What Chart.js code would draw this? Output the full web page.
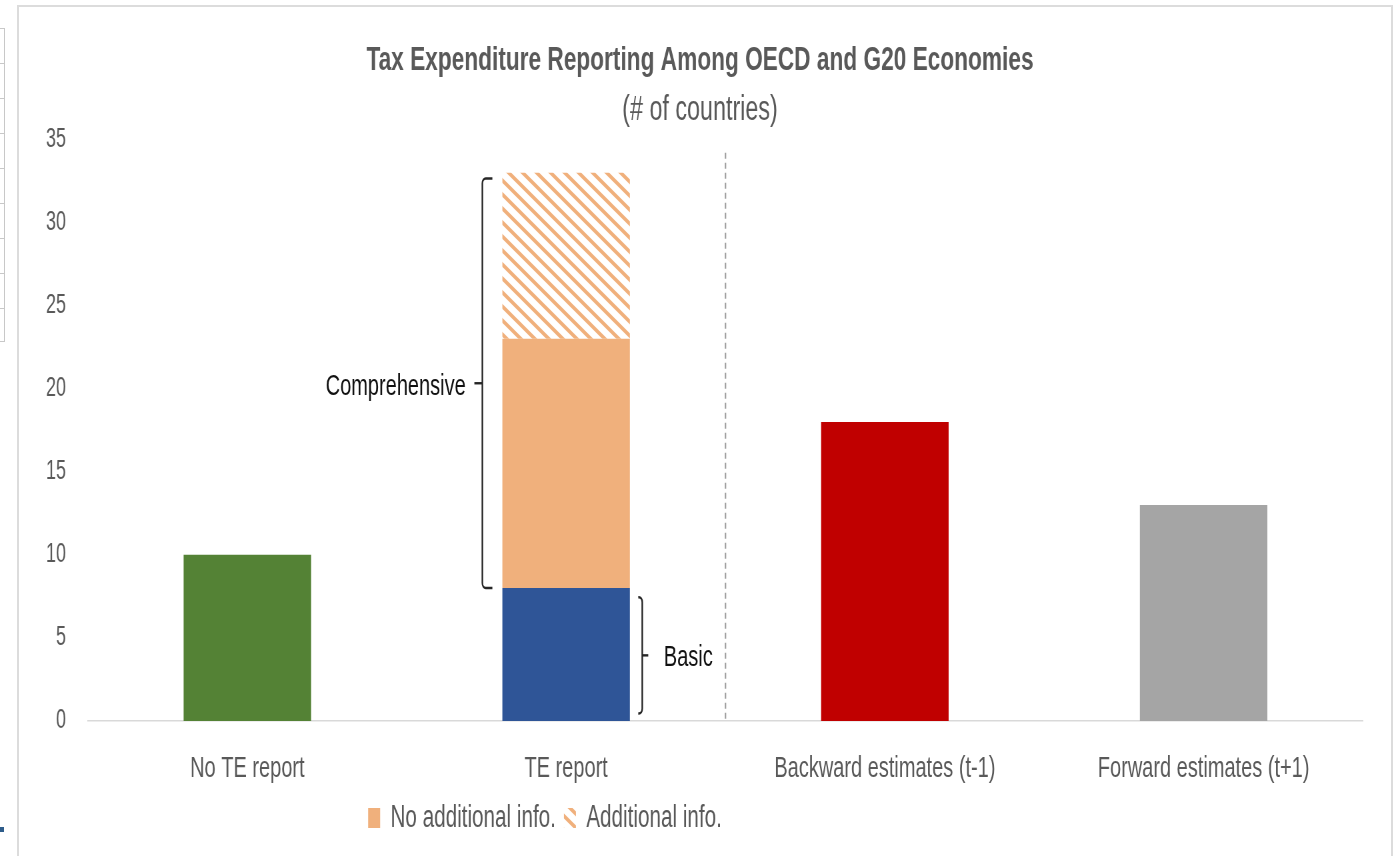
<!DOCTYPE html>
<html>
<head>
<meta charset="utf-8">
<title>Tax Expenditure Reporting Among OECD and G20 Economies</title>
<script src="https://cdn.jsdelivr.net/npm/chart.js@4.4.1/dist/chart.umd.min.js"></script>
<style>
  html, body { margin: 0; padding: 0; background: #ffffff; }
  body { width: 1396px; height: 856px; position: relative; overflow: hidden; }
  #frame {
    position: absolute; left: 17px; top: 5px; width: 1376px; height: 880px;
    border: 2px solid #dcdcdc; box-sizing: border-box;
  }
  #side {
    position: absolute; left: -1px; top: 28px; width: 4px; height: 312px;
    border: 1px solid #c8c8c8;
    background: repeating-linear-gradient(to bottom, transparent 0 34px, #c8c8c8 34px 35px);
  }
  #mark { position: absolute; left: 0; top: 827px; width: 4px; height: 5px; background: #2e5c8a; }
  /* the plot is laid out on a wider stage and condensed horizontally */
  #stage {
    position: absolute; left: 0; top: 0; width: 2094px; height: 856px;
    transform: scaleX(0.6666667); transform-origin: 0 0;
  }
</style>
</head>
<body>
<div id="frame"></div>
<div id="side"></div>
<div id="mark"></div>
<div id="stage"><canvas id="chart"></canvas></div>
<script>
// Categories along the horizontal axis
const categories = ['No TE report', 'TE report', 'Backward estimates (t-1)', 'Forward estimates (t+1)'];

// Number of countries in each group
const noReport          = [10, null, null, null];
const basicReport       = [null, 8, null, null];
const noAdditionalInfo  = [null, 15, null, null];
const additionalInfo    = [null, 10, null, null];
const backwardEstimates = [null, null, 18, null];
const forwardEstimates  = [null, null, null, 13];

// Value axis
const yTickValues = [0, 5, 10, 15, 20, 25, 30, 35];

// Bracket extents (in countries) and the top of the divider line
const comprehensiveSpan = [8, 32.65];
const basicSpan = [0.45, 7.45];
const dividerTop = 34.2;

const FONT = "'Liberation Sans', Arial, sans-serif";
const TEXT = '#595959';
const ORANGE = '#F0B07C';

// Diagonal stripes for the "Additional info." segment
function stripePattern(color) {
  const tile = document.createElement('canvas');
  tile.width = 21; tile.height = 14;
  const g = tile.getContext('2d');
  g.strokeStyle = color;
  g.lineWidth = 4.2;
  g.beginPath();
  g.moveTo(-21, -14); g.lineTo(42, 28);
  g.moveTo(-21, 0);   g.lineTo(21, 28);
  g.moveTo(0, -14);   g.lineTo(42, 14);
  g.stroke();
  return document.createElement('canvas').getContext('2d').createPattern(tile, 'repeat');
}
const hatch = stripePattern(ORANGE);

// Draws the divider and the two brackets labelled Comprehensive / Basic
const annotationPlugin = {
  id: 'reportAnnotations',
  afterDatasetsDraw(chart) {
    const { ctx, scales: { x, y } } = chart;
    ctx.save();

    const divX = (x.getPixelForValue(1) + x.getPixelForValue(2)) / 2;
    ctx.strokeStyle = '#9e9e9e';
    ctx.lineWidth = 2.2;
    ctx.setLineDash([6, 4]);
    ctx.beginPath();
    ctx.moveTo(divX, y.getPixelForValue(dividerTop));
    ctx.lineTo(divX, y.getPixelForValue(0));
    ctx.stroke();
    ctx.setLineDash([]);

    const bar = chart.getDatasetMeta(1).data[1];
    const barLeft = bar.x - bar.width / 2;
    const barRight = bar.x + bar.width / 2;

    function bracket(xv, v0, v1, hookDir, hookLen, tickDir, tickLen) {
      const yTop = y.getPixelForValue(v1);
      const yBot = y.getPixelForValue(v0);
      const yMid = (yTop + yBot) / 2;
      ctx.strokeStyle = '#262626';
      ctx.lineWidth = 2.4;
      ctx.lineJoin = 'round';
      ctx.beginPath();
      ctx.moveTo(xv + hookDir * hookLen, yTop);
      ctx.arcTo(xv, yTop, xv, yTop + 6, 5);
      ctx.arcTo(xv, yBot, xv + hookDir * hookLen, yBot, 5);
      ctx.lineTo(xv + hookDir * hookLen, yBot);
      ctx.stroke();
      ctx.beginPath();
      ctx.moveTo(xv, yMid);
      ctx.lineTo(xv + tickDir * tickLen, yMid);
      ctx.stroke();
      return yMid;
    }

    ctx.font = '30px ' + FONT;
    ctx.fillStyle = '#111111';
    ctx.textBaseline = 'middle';

    const cx = barLeft - 30;
    const cMid = bracket(cx, comprehensiveSpan[0], comprehensiveSpan[1], 1, 15, -1, 12);
    ctx.textAlign = 'right';
    ctx.fillText('Comprehensive', barLeft - 55, cMid + 3);

    const bx = barRight + 18.6;
    const bMid = bracket(bx, basicSpan[0], basicSpan[1], -1, 6, 1, 9);
    ctx.textAlign = 'left';
    ctx.fillText('Basic', barRight + 51, bMid + 2);

    ctx.restore();
  }
};

// Centres the legend under the left half of the plot
const legendPlacement = {
  id: 'legendPlacement',
  afterLayout(chart) {
    const lg = chart.legend;
    if (!lg) return;
    const shift = 817.5 - (lg.left + lg.right) / 2;
    lg.left += shift;
    lg.right += shift;
  }
};

const legendNames = ['No additional info.', 'Additional info.'];

new Chart(document.getElementById('chart'), {
  type: 'bar',
  data: {
    labels: categories,
    datasets: [
      { label: 'No TE report', data: noReport, backgroundColor: '#548235' },
      { label: 'Basic', data: basicReport, backgroundColor: '#2F5597' },
      { label: 'No additional info.', data: noAdditionalInfo, backgroundColor: ORANGE },
      { label: 'Additional info.', data: additionalInfo, backgroundColor: hatch },
      { label: 'Backward estimates (t-1)', data: backwardEstimates, backgroundColor: '#C00000' },
      { label: 'Forward estimates (t+1)', data: forwardEstimates, backgroundColor: '#A5A5A5' }
    ]
  },
  options: {
    responsive: true,
    maintainAspectRatio: false,
    animation: false,
    events: [],
    datasets: { bar: { barPercentage: 0.4, categoryPercentage: 1, borderWidth: 0 } },
    layout: { padding: { top: 0, left: 55.5, right: 49.5, bottom: 12.5 } },
    scales: {
      x: {
        stacked: true,
        grid: { display: false, drawTicks: false },
        border: { display: true, color: '#d9d9d9', width: 1.5 },
        ticks: {
          color: TEXT, font: { family: FONT, size: 30 }, padding: 30,
          maxRotation: 0, autoSkip: false
        },
        afterFit(scale) { scale.height = 69.5; }
      },
      y: {
        stacked: true,
        min: yTickValues[0],
        max: yTickValues[yTickValues.length - 1],
        grid: { display: false, drawTicks: false },
        border: { display: false },
        afterBuildTicks(scale) { scale.ticks = yTickValues.map(v => ({ value: v })); },
        ticks: { color: TEXT, font: { family: FONT, size: 27 }, padding: 33 },
        afterFit(scale) { scale.width = 76.5; }
      }
    },
    plugins: {
      title: {
        display: true,
        text: 'Tax Expenditure Reporting Among OECD and G20 Economies',
        color: TEXT,
        font: { family: FONT, size: 34, weight: 'bold' },
        padding: { top: 40, bottom: 0 }
      },
      subtitle: {
        display: true,
        text: '(# of countries)',
        color: TEXT,
        font: { family: FONT, size: 35 },
        padding: { top: 8.6, bottom: 8 }
      },
      legend: {
        position: 'bottom',
        labels: {
          color: TEXT,
          font: { family: FONT, size: 31 },
          boxWidth: 18,
          boxHeight: 20,
          padding: 12,
          filter: item => legendNames.includes(item.text)
        }
      },
      tooltip: { enabled: false }
    }
  },
  plugins: [annotationPlugin, legendPlacement]
});
</script>
</body>
</html>
